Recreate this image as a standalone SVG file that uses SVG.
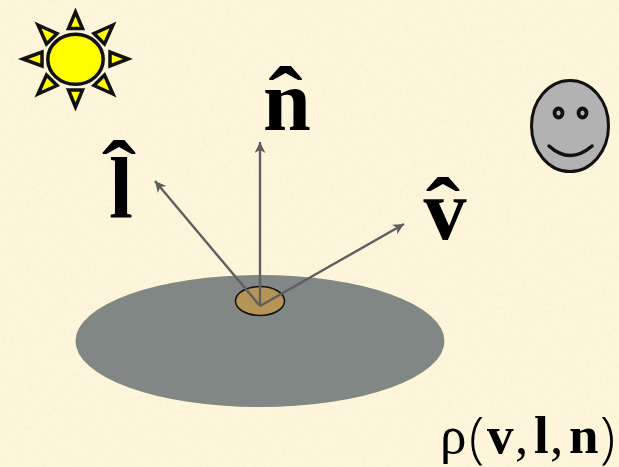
<svg xmlns="http://www.w3.org/2000/svg" width="619" height="467" viewBox="0 0 619 467">
<style>
.ray{stroke:#5f5f5f;stroke-width:2.400;fill:none;marker-end:url(#head)}
.s{fill:#ffff00;stroke:#111;stroke-width:3.500;stroke-linejoin:miter}
.e{fill:#b2b2b2;stroke:#111;stroke-width:3.800}
.t{font-family:"Liberation Serif","Times New Roman",serif;fill:#000}
.b{font-weight:bold;font-size:86px}
.f{font-size:53px}
.fb{font-size:53px;font-weight:bold}
.p{font-family:"Open Sans","Liberation Sans",sans-serif;font-weight:300;font-size:56px;fill:#000}
</style>
<defs>
<marker id="head" markerUnits="userSpaceOnUse" markerWidth="14" markerHeight="12" refX="11" refY="5.500" orient="auto"><path d="M0 0L11 5.500L0 11L3 5.500Z" fill="#5f5f5f"/></marker>
<filter id="paper" x="0" y="0" width="100%" height="100%"><feTurbulence type="fractalNoise" baseFrequency="0.3" numOctaves="3" seed="4"/><feColorMatrix values="0 0 0 0 0.93  0 0 0 0 0.86  0 0 0 0 0.66  0.8 0.8 0 0 -0.7"/></filter>
</defs>
<rect id="background" width="619" height="467" fill="#fdf6da"/>
<rect id="texture" width="619" height="467" filter="url(#paper)"/>
<g id="sun">
<ellipse class="s" cx="75.500" cy="59.300" rx="27.700" ry="25"/>
<path class="s" d="M75.500 12L68.500 28.500H82.500Z"/>
<path class="s" d="M75.500 107L68.500 90H82.500Z"/>
<path class="s" d="M128 59L110 52V66Z"/>
<path class="s" d="M23 59L42 52V66Z"/>
<path class="s" d="M113 25L94 33.500L104.500 44Z"/>
<path class="s" d="M38 25L57 33.500L46.500 44Z"/>
<path class="s" d="M113 94L94 85.500L104.500 75Z"/>
<path class="s" d="M38 94L57 85.500L46.500 75Z"/>
</g>
<g id="face">
<ellipse cx="570" cy="126" rx="38.500" ry="45.500" fill="#b2b2b2" stroke="#111" stroke-width="3"/>
<ellipse class="e" cx="558.500" cy="113" rx="4" ry="4.500"/>
<ellipse class="e" cx="582.500" cy="113" rx="4" ry="4.500"/>
<path d="M549 146Q570 165 592 146" fill="none" stroke="#111" stroke-width="3.500" stroke-linecap="round"/>
</g>
<g id="surface"><ellipse cx="260" cy="341" rx="184.500" ry="66" fill="#808784"/></g>
<g id="patch"><ellipse cx="260" cy="301" rx="24.500" ry="14.500" fill="#b59555" stroke="#111" stroke-width="1.500"/></g>
<g id="connectors">
<line class="ray" x1="260" y1="306" x2="155" y2="181"/>
<line class="ray" x1="260" y1="306" x2="260" y2="142"/>
<line class="ray" x1="260" y1="306" x2="404" y2="224"/>
</g>
<g id="label-l"><text class="t b" x="121" y="217" text-anchor="middle">l</text><text class="t b" text-anchor="middle" transform="translate(119 202) scale(1.200 1)">ˆ</text></g>
<g id="label-n"><text class="t b" x="287" y="130" text-anchor="middle">n</text><text class="t b" text-anchor="middle" transform="translate(285.500 128) scale(1.200 1)">ˆ</text></g>
<g id="label-v"><text class="t b" x="445" y="239" text-anchor="middle">v</text><text class="t b" text-anchor="middle" transform="translate(443 239) scale(1.200 1)">ˆ</text></g>
<g id="label-formula">
<text class="t f" x="440" y="453">ρ</text>
<text class="p" x="469" y="457">(</text>
<text class="t fb" x="487" y="453">v</text>
<text class="t f" x="515" y="453">,</text>
<text class="t fb" x="534" y="453">l</text>
<text class="t f" x="550" y="453">,</text>
<text class="t fb" x="569" y="453">n</text>
<text class="p" x="600" y="457">)</text>
</g>
</svg>
